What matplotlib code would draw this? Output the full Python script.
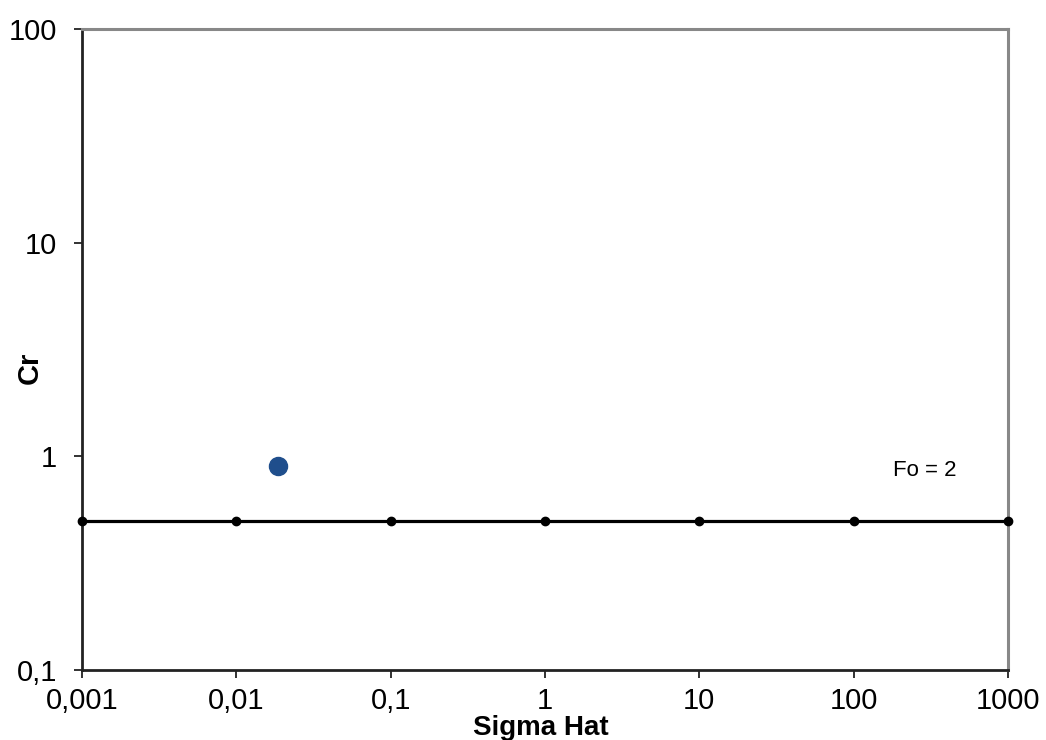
import matplotlib
matplotlib.use("Agg")
import matplotlib.pyplot as plt
from matplotlib.ticker import FixedLocator, FixedFormatter, NullLocator

plt.rcParams['font.family'] = ['Liberation Sans', 'DejaVu Sans']

line_x = [0.001, 0.01, 0.1, 1, 10, 100, 1000]
line_y = [0.5, 0.5, 0.5, 0.5, 0.5, 0.5, 0.5]
point_x = [0.0186]
point_y = [0.90]

x_ticks = [0.001, 0.01, 0.1, 1, 10, 100, 1000]
x_labels = ["0,001", "0,01", "0,1", "1", "10", "100", "1000"]
y_ticks = [0.1, 1, 10, 100]
y_labels = ["0,1", "1", "10", "100"]

W, H = 1046, 740
fig = plt.figure(figsize=(W / 100, H / 100), dpi=100)
ax = fig.add_axes([82 / W, 1 - 670 / H, (1008 - 82) / W, (670 - 29) / H])
ax.set_xscale('log')
ax.set_yscale('log')
ax.set_xlim(0.001, 1000)
ax.set_ylim(0.1, 100)

ax.plot(line_x, line_y, color='black', lw=2.3, marker='o', ms=6, zorder=3, clip_on=False)
ax.plot(point_x, point_y, linestyle='none', marker='o', ms=13, color='#1F4E8C', zorder=4)

ax.xaxis.set_major_locator(FixedLocator(x_ticks))
ax.xaxis.set_major_formatter(FixedFormatter(x_labels))
ax.yaxis.set_major_locator(FixedLocator(y_ticks))
ax.yaxis.set_major_formatter(FixedFormatter(y_labels))
ax.xaxis.set_minor_locator(NullLocator())
ax.yaxis.set_minor_locator(NullLocator())

ax.tick_params(axis='both', direction='out', length=6, width=1.3, color='#222222', labelsize=21)
ax.tick_params(axis='y', pad=12)
ax.tick_params(axis='x', pad=6)
ax.tick_params(top=False, right=False)

for s in ['left', 'bottom']:
    ax.spines[s].set_color('#222222')
    ax.spines[s].set_linewidth(2)
for s in ['top', 'right']:
    ax.spines[s].set_color('#888888')
    ax.spines[s].set_linewidth(2.2)

fig.text(541 / W, 1 - 728 / H, 'Sigma Hat', fontsize=20, fontweight='bold', ha='center', va='center')
fig.text(30 / W, 1 - 368 / H, 'Cr', fontsize=21, fontweight='bold', ha='center', va='center', rotation=90)

ax.text(290, 0.86, 'Fo = 2', fontsize=16, ha='center', va='center')

fig.savefig('out.png', dpi=100, facecolor='white')
